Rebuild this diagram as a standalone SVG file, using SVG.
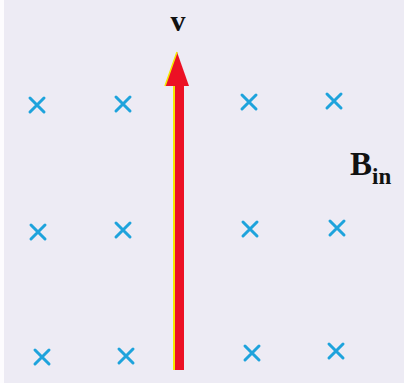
<svg xmlns="http://www.w3.org/2000/svg" width="404" height="383" viewBox="0 0 404 383">
<style>
.x{stroke:#1ea3dc;stroke-width:3;stroke-linecap:round;fill:none}
.t{font-family:"Liberation Serif","DejaVu Serif",serif;font-weight:bold;fill:#111}
</style>
<defs>
<path id="cr" d="M-7,-7L7,7M7,-7L-7,7" class="x"/>
</defs>
<rect x="0" y="0" width="404" height="383" fill="#fdfcfe"/>
<rect x="4" y="0" width="400" height="383" fill="#edebf4"/>
<g id="field">
<use href="#cr" x="37" y="105"/>
<use href="#cr" x="123" y="104"/>
<use href="#cr" x="249" y="102"/>
<use href="#cr" x="334" y="101"/>
<use href="#cr" x="38" y="232"/>
<use href="#cr" x="123" y="230"/>
<use href="#cr" x="250" y="229"/>
<use href="#cr" x="337" y="228"/>
<use href="#cr" x="42" y="357"/>
<use href="#cr" x="126" y="356"/>
<use href="#cr" x="252" y="353"/>
<use href="#cr" x="336" y="351"/>
</g>
<g id="velocity">
<polygon points="174,85 184,85 184,370 174,370" fill="#ec1024"/>
<rect x="173" y="85" width="2" height="285" fill="#f4e800"/>
<polygon points="177,52 189,86 165,86" fill="#ec1024"/>
<path d="M177,52 L165,86" stroke="#f4e800" stroke-width="1.5"/>
<text class="t" x="178" y="31" font-size="30" text-anchor="middle">v</text>
</g>
<g id="label-B">
<text class="t" x="350" y="175" font-size="33">B<tspan font-size="23" dy="9">in</tspan></text>
</g>
</svg>
